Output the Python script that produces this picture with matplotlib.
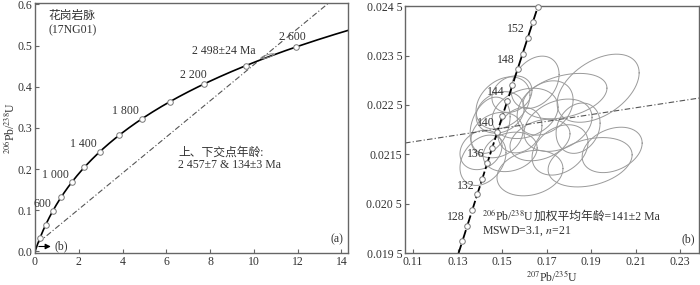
import numpy as np
import matplotlib
matplotlib.use("Agg")
import matplotlib.pyplot as plt

plt.rcParams['font.family'] = ['Liberation Serif', 'Noto Sans CJK SC']
plt.rcParams['mathtext.fontset'] = 'stix'
plt.rcParams['font.size'] = 8.5

# decay constants (1/yr)
L238 = 1.55125e-10
L235 = 9.8485e-10

# panel (a) data
ages_a = [200, 400, 600, 800, 1000, 1200, 1400, 1600, 1800, 2000, 2200, 2400, 2600]
labels_a = [600, 1000, 1400, 1800, 2200, 2600]
upper_age = 2457
lower_age = 134
old_spot = (10.62, 0.474, 0.30, 0.006, 0.8)  # x, y, sx, sy, rho

# panel (b) data
ages_b = [126, 128, 130, 132, 134, 136, 138, 140, 142, 144, 146, 148, 150, 152, 154, 156]
labels_b = [128, 132, 136, 140, 144, 148, 152]
ell_x = [0.1931, 0.1648, 0.1544, 0.1782, 0.1491, 0.1751, 0.1841, 0.1895, 0.1625, 0.1414, 0.1536,
         0.1504, 0.1446, 0.1603, 0.1405, 0.1670, 0.1477, 0.1994, 0.1760, 0.1580, 0.1693]
ell_y = [0.02284, 0.02296, 0.02272, 0.02268, 0.02235, 0.02209, 0.02203, 0.02134, 0.02112, 0.02138, 0.02155,
         0.02254, 0.02209, 0.02233, 0.02159, 0.02179, 0.02189, 0.02159, 0.02159, 0.02199, 0.02244]
ell_sx = [0.01841, 0.01078, 0.00898, 0.01886, 0.01078, 0.01527, 0.00988, 0.01886, 0.01482, 0.01033, 0.01212,
          0.01212, 0.00898, 0.01482, 0.00943, 0.01347, 0.01167, 0.01347, 0.01257, 0.00988, 0.01257]
ell_sy = [0.00069, 0.00053, 0.00037, 0.00046, 0.00042, 0.00053, 0.00051, 0.00050, 0.00046, 0.00051, 0.00040,
          0.00053, 0.00057, 0.00051, 0.00040, 0.00042, 0.00046, 0.00046, 0.00051, 0.00046, 0.00055]
ell_rho = [0.45, 0.3, 0.2, 0.35, 0.2, 0.3, 0.2, 0.3, 0.2, 0.3, 0.2,
           0.3, 0.3, 0.25, 0.2, 0.3, 0.2, 0.3, 0.3, 0.2, 0.3]
chord_x = [0.1064, 0.2384]
chord_y = [0.02173, 0.02264]

TXT = '#333333'
SPINE = '#666666'


def r68(t):
    return np.exp(L238 * t * 1e6) - 1


def r75(t):
    return np.exp(L235 * t * 1e6) - 1


def ellipse(ax, x, y, sx, sy, rho, **kw):
    t = np.linspace(0, 2 * np.pi, 200)
    ex = x + sx * np.cos(t)
    ey = y + sy * (rho * np.cos(t) + np.sqrt(1 - rho ** 2) * np.sin(t))
    ax.plot(ex, ey, **kw)


def style(ax):
    for s in ['top', 'right', 'left', 'bottom']:
        ax.spines[s].set_color(SPINE)
        ax.spines[s].set_linewidth(1.0)
    ax.tick_params(direction='in', length=3, pad=2, color=SPINE, labelcolor=TXT, top=False, right=False)


fig = plt.figure(figsize=(7, 2.85), dpi=100)
ax1 = fig.add_axes([0.05, 0.112, 0.447, 0.877])
ax2 = fig.add_axes([0.5786, 0.112, 0.42, 0.866])

# ---- panel (a)
t = np.linspace(0, 2800, 400)
ax1.plot(r75(t), r68(t), color='black', lw=1.2, zorder=2)
ta = np.array(ages_a)
ax1.plot(r75(ta), r68(ta), 'o', ms=4, mfc='white', mec='#777777', mew=0.7, zorder=3)
for a in labels_a:
    if a == 2600:
        ax1.annotate('2 600', (r75(a), r68(a)), xytext=(-3, 3), textcoords='offset points',
                     ha='center', va='bottom', color=TXT)
    elif a == 2200:
        ax1.annotate('2 200', (r75(a), r68(a)), xytext=(2, 2), textcoords='offset points',
                     ha='right', va='bottom', color=TXT)
    elif a == 600:
        ax1.annotate('600', (r75(a), r68(a)), xytext=(-1, 1), textcoords='offset points',
                     ha='right', va='bottom', color=TXT)
    else:
        s = f"{a // 1000} {a % 1000:03d}"
        ax1.annotate(s, (r75(a), r68(a)), xytext=(-2, 1), textcoords='offset points',
                     ha='right', va='bottom', color=TXT)

# discordia
x0, y0 = r75(lower_age), r68(lower_age)
x1, y1 = r75(upper_age), r68(upper_age)
slope = (y1 - y0) / (x1 - x0)
dx = np.array([x0, 14.3])
ax1.plot(dx, y0 + slope * (dx - x0), color='#555555', lw=0.8, dashes=[5, 2, 1, 2], zorder=1)
ellipse(ax1, *old_spot, color='#888888', lw=0.7)

ax1.text(0.6, 0.572, '花岗岩脉', color=TXT, va='center')
ax1.text(0.6, 0.537, '(17NG01)', color=TXT, va='center')
ax1.text(10.1, 0.487, '2 498±24 Ma', color=TXT, ha='right', va='center')
ax1.text(6.55, 0.239, '上、下交点年龄:', color=TXT, va='center')
ax1.text(6.55, 0.209, '2 457±7 & 134±3 Ma', color=TXT, va='center')
ax1.annotate('', xy=(0.85, 0.012), xytext=(0.05, 0.012),
             arrowprops=dict(arrowstyle='-|>', color='black', lw=0.8, mutation_scale=8))
ax1.text(0.9, 0.012, '(b)', color=TXT, va='center')
ax1.text(0.985, 0.03, '(a)', transform=ax1.transAxes, ha='right', va='bottom', color=TXT)

ax1.set_xlim(0, 14.3)
ax1.set_ylim(-0.004, 0.603)
ax1.set_xticks(range(0, 15, 2))
ax1.set_yticks([0.0, 0.1, 0.2, 0.3, 0.4, 0.5, 0.6])
ax1.set_yticklabels(['0.0', '0.1', '0.2', '0.3', '0.4', '0.5', '0.6'])
ax1.set_ylabel(r'$^{206}$Pb/$^{238}$U', color=TXT, labelpad=0)
style(ax1)

# ---- panel (b)
for i in range(len(ell_x)):
    ellipse(ax2, ell_x[i], ell_y[i], ell_sx[i], ell_sy[i], ell_rho[i], color='#9a9a9a', lw=0.7, zorder=1)

t = np.linspace(120, 160, 200)
ax2.plot(r75(t), r68(t), color='black', lw=1.3, dashes=[7, 1.5], zorder=2)
tb = np.array(ages_b)
ax2.plot(r75(tb), r68(tb), 'o', ms=4, mfc='white', mec='#777777', mew=0.7, zorder=3, clip_on=False)
for a in labels_b:
    ax2.annotate(str(a), (r75(a), r68(a)), xytext=(-2, 2), textcoords='offset points',
                 ha='right', va='bottom', color=TXT)

ax2.plot(chord_x, chord_y, color='#555555', lw=0.8, dashes=[5, 2, 1, 2], zorder=1)

t1 = ax2.text(0.1408, 0.02018, r'$^{206}$Pb/$^{238}$U', color=TXT, va='baseline')
ax2.annotate('加权平均年龄=141±2 Ma', xy=(1, 0), xycoords=t1, xytext=(0.5, 0),
             textcoords='offset points', va='bottom', ha='left', color=TXT)
ax2.text(0.1408, 0.01990, 'MSWD=3.1, $n$=21', color=TXT, va='baseline')
ax2.text(0.985, 0.03, '(b)', transform=ax2.transAxes, ha='right', va='bottom', color=TXT)

ax2.set_xlim(0.1064, 0.2384)
ax2.set_ylim(0.0195, 0.0245)
ax2.set_xticks([0.11, 0.13, 0.15, 0.17, 0.19, 0.21, 0.23])
ax2.set_xticklabels(['0.11', '0.13', '0.15', '0.17', '0.19', '0.21', '0.23'])
ax2.set_yticks([0.0195, 0.0205, 0.0215, 0.0225, 0.0235, 0.0245])
ax2.set_yticklabels(['0.019 5', '0.020 5', '0.0215', '0.022 5', '0.023 5', '0.024 5'])
ax2.set_xlabel(r'$^{207}$Pb/$^{235}$U', color=TXT, labelpad=1)
style(ax2)

fig.savefig('out.png', dpi=100)
